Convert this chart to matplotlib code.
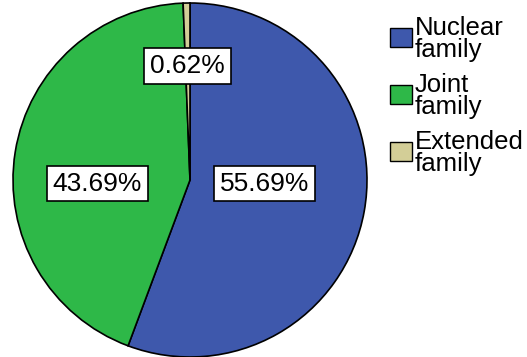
import matplotlib.pyplot as plt
from matplotlib.patches import Rectangle

# family type shares (percent)
labels = ['Nuclear\nfamily', 'Joint\nfamily', 'Extended\nfamily']
values = [55.69, 43.69, 0.62]
colors = ['#3E58AC', '#2EB848', '#D3CE97']
label_pos = [(0.42, -0.02), (-0.525, -0.02), (-0.014, 0.644)]

plt.rcParams['font.family'] = ['Liberation Sans', 'DejaVu Sans']

W, H = 527, 357
fig = plt.figure(figsize=(W / 100, H / 100), dpi=100)

# pie centre (190, 180) px, radius 177 px
cx, cy, r = 190, 180, 177
ax = fig.add_axes([(cx - r) / W, (H - cy - r) / H, 2 * r / W, 2 * r / H])
wedges, _ = ax.pie(values, colors=colors, startangle=90, counterclock=False,
                   radius=1, wedgeprops=dict(edgecolor='black', linewidth=1.2))
for w in wedges:
    w.set_clip_on(False)
ax.set_xlim(-1, 1)
ax.set_ylim(-1, 1)
ax.set_aspect('auto')
ax.axis('off')

for v, (x, y) in zip(values, label_pos):
    ax.text(x, y, f'{v:.2f}%', ha='center', va='center', fontsize=19,
            bbox=dict(boxstyle='square,pad=0.22', facecolor='white',
                      edgecolor='black', linewidth=1.2))

# legend drawn by hand
for i, (lab, c) in enumerate(zip(labels, colors)):
    top = 19 + 57 * i
    fig.patches.append(Rectangle((390 / W, 1 - (top + 28) / H), 22 / W, 19 / H,
                                 transform=fig.transFigure, facecolor=c,
                                 edgecolor='black', linewidth=1))
    fig.text(415 / W, 1 - (top - 3) / H, lab, ha='left', va='top',
             fontsize=18.5, linespacing=0.88)

fig.savefig('out.png', dpi=100, facecolor='white')
